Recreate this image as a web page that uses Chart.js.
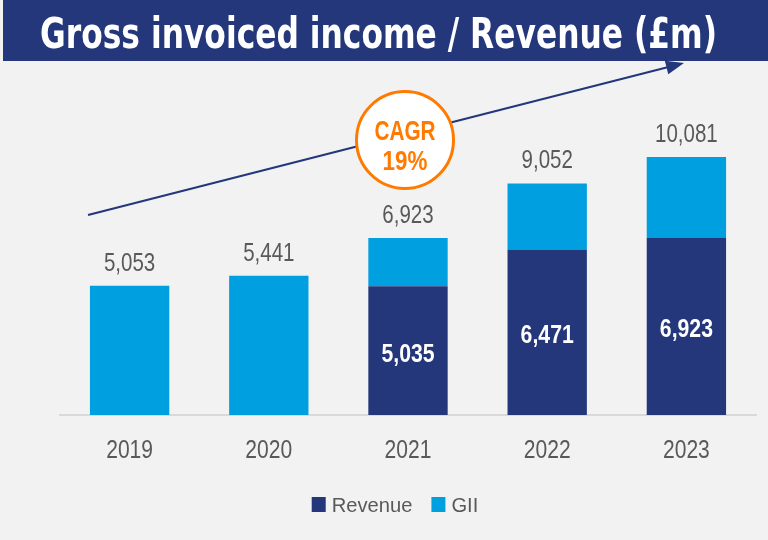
<!DOCTYPE html>
<html>
<head>
<meta charset="utf-8">
<script src="https://cdn.jsdelivr.net/npm/chart.js@4"></script>
<style>
  html, body { margin: 0; padding: 0; background: #f2f2f2; }
  #wrap { position: relative; width: 768px; height: 540px; overflow: hidden; }
  #title {
    position: absolute; left: 3px; top: 0; width: 765px; height: 61px;
    background: #24377b;
  }
  #chart { position: absolute; left: 0; top: 0; }
</style>
</head>
<body>
<div id="wrap">
  <div id="title"></div>
  <canvas id="chart" width="768" height="540"></canvas>
</div>
<script>
const years = ['2019', '2020', '2021', '2022', '2023'];
const revenue = [null, null, 5035, 6471, 6923];
const gii = [5053, 5441, 1888, 2581, 3158];
const totals = [5053, 5441, 6923, 9052, 10081];
const titleText = 'Gross invoiced income / Revenue (£m)';

const navy = '#24377b';
const blue = '#009fdf';
const orange = '#ff7a00';
const grey = '#595959';
const sans = '"Liberation Sans", Arial, sans-serif';

const fmt = v => v.toLocaleString('en-GB');

// condensed look: squeeze ordinary glyphs horizontally
function narrowText(ctx, text, x, y, sx) {
  ctx.save();
  ctx.translate(x, y);
  ctx.scale(sx, 1);
  ctx.fillText(text, 0, 0);
  ctx.restore();
}

const heading = {
  id: 'heading',
  afterDraw(chart) {
    const ctx = chart.ctx;
    ctx.save();
    ctx.fillStyle = '#fff';
    ctx.textAlign = 'left';
    ctx.textBaseline = 'alphabetic';
    ctx.font = 'bold 43px "DejaVu Sans Condensed", "Liberation Sans", sans-serif';
    const w = ctx.measureText(titleText).width;
    ctx.translate(40, 48);
    ctx.scale(677 / w, 1);
    ctx.fillText(titleText, 0, 0);
    ctx.restore();
  }
};

// totals above each stack, revenue inside the dark bar, year ticks below
const barLabels = {
  id: 'barLabels',
  afterDatasetsDraw(chart) {
    const ctx = chart.ctx;
    const revMeta = chart.getDatasetMeta(0);
    const giiMeta = chart.getDatasetMeta(1);
    const xScale = chart.scales.x;
    ctx.save();
    ctx.textAlign = 'center';
    ctx.textBaseline = 'alphabetic';
    years.forEach((y, i) => {
      const top = giiMeta.data[i];
      ctx.fillStyle = grey;
      ctx.font = '25px ' + sans;
      narrowText(ctx, fmt(totals[i]), top.x, top.y - 15, 0.82);
      ctx.font = '26px ' + sans;
      narrowText(ctx, y, xScale.getPixelForTick(i), 458, 0.81);
      if (revenue[i] != null) {
        const bar = revMeta.data[i];
        ctx.fillStyle = '#fff';
        ctx.font = 'bold 25px ' + sans;
        narrowText(ctx, fmt(revenue[i]), bar.x, (bar.y + bar.base) / 2 + 11, 0.85);
      }
    });
    ctx.restore();
  }
};

const legendRow = {
  id: 'legendRow',
  afterDraw(chart) {
    const ctx = chart.ctx;
    const sx = 0.96;
    ctx.save();
    ctx.font = '21px ' + sans;
    ctx.textBaseline = 'alphabetic';
    ctx.textAlign = 'left';
    const items = chart.data.datasets.map(d => ({
      label: d.label, color: d.backgroundColor,
      w: 14 + 6 + ctx.measureText(d.label).width * sx
    }));
    const total = items.reduce((s, it) => s + it.w, 0) + 19 * (items.length - 1);
    let x = 395 - total / 2;
    items.forEach(it => {
      ctx.fillStyle = it.color;
      ctx.fillRect(x, 497, 14, 15);
      ctx.fillStyle = grey;
      narrowText(ctx, it.label, x + 20, 512, sx);
      x += it.w + 19;
    });
    ctx.restore();
  }
};

// growth arrow with the CAGR badge
const cagrArrow = {
  id: 'cagrArrow',
  afterDraw(chart) {
    const ctx = chart.ctx;
    const x0 = 88, y0 = 215, x1 = 684, y1 = 63;
    const ang = Math.atan2(y1 - y0, x1 - x0);
    const c = Math.cos(ang), s = Math.sin(ang);
    ctx.save();
    ctx.strokeStyle = navy;
    ctx.fillStyle = navy;
    ctx.lineWidth = 2.2;
    ctx.beginPath();
    ctx.moveTo(x0, y0);
    ctx.lineTo(x1 - 14 * c, y1 - 14 * s);
    ctx.stroke();
    ctx.beginPath();
    ctx.moveTo(x1, y1);
    ctx.lineTo(x1 - 18 * c + 7 * s, y1 - 18 * s - 7 * c);
    ctx.lineTo(x1 - 18 * c - 7 * s, y1 - 18 * s + 7 * c);
    ctx.closePath();
    ctx.fill();

    ctx.beginPath();
    ctx.arc(405, 140, 48.5, 0, Math.PI * 2);
    ctx.fillStyle = '#fff';
    ctx.fill();
    ctx.lineWidth = 3;
    ctx.strokeStyle = orange;
    ctx.stroke();
    ctx.fillStyle = orange;
    ctx.textAlign = 'center';
    ctx.textBaseline = 'alphabetic';
    ctx.font = 'bold 28px ' + sans;
    narrowText(ctx, 'CAGR', 405, 140, 0.74);
    narrowText(ctx, '19%', 405, 170, 0.8);
    ctx.restore();
  }
};

new Chart(document.getElementById('chart'), {
  type: 'bar',
  data: {
    labels: years,
    datasets: [
      { label: 'Revenue', data: revenue, backgroundColor: navy, categoryPercentage: 1, barPercentage: 0.57 },
      { label: 'GII', data: gii, backgroundColor: blue, categoryPercentage: 1, barPercentage: 0.57 }
    ]
  },
  options: {
    responsive: false,
    animation: false,
    layout: { padding: { left: 60, right: 12, top: 108, bottom: 117 } },
    plugins: {
      tooltip: { enabled: false },
      legend: { display: false }
    },
    scales: {
      x: {
        stacked: true,
        grid: { display: false },
        border: { color: '#d9d9d9', width: 2 },
        ticks: { display: false }
      },
      y: { stacked: true, display: false, min: 0, max: 12000 }
    }
  },
  plugins: [barLabels, cagrArrow, legendRow, heading]
});
</script>
</body>
</html>
